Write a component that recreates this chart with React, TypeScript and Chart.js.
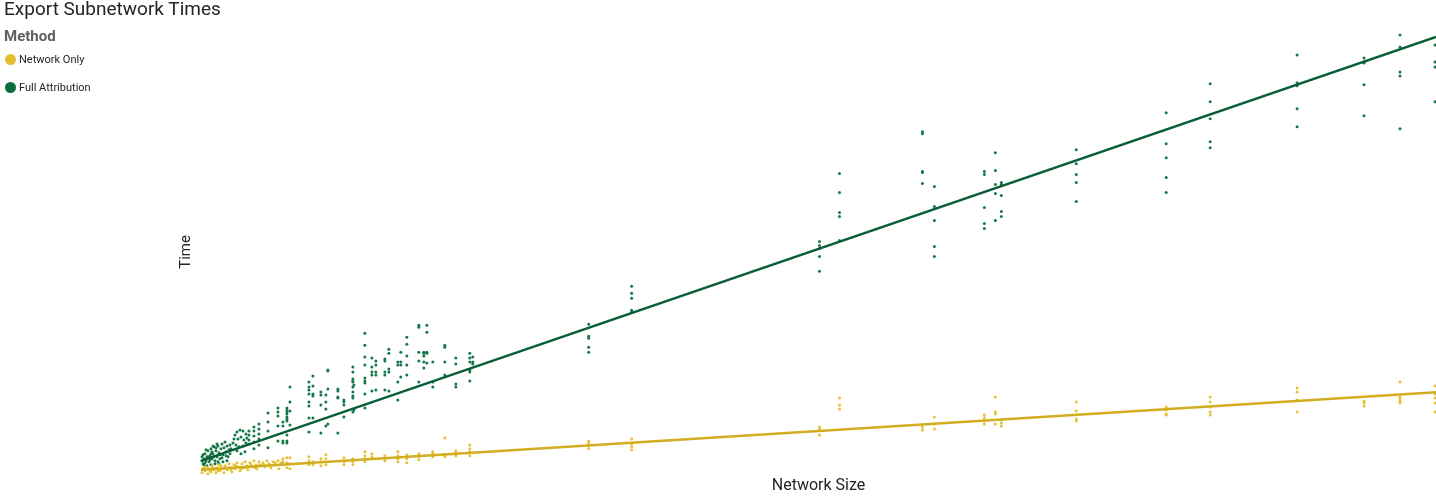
import { useEffect, useRef } from "react";
import { Chart, registerables } from "chart.js";

Chart.register(...registerables);

// ---- data (arbitrary units: Network Size, Time) ----
const methods = ["Network Only", "Full Attribution"];

// Full Attribution: repeated runs for each network size
const fullAttributionRuns: Array<[number, number[]]> = [
  [96.6, [36.2, 33.1, 31.7, 29.7, 28.2]],
  [101.0, [39.1, 37.3, 35.6, 33.3, 32.7]],
  [109.7, [42.0, 39.2, 38.9, 36.6, 34.8]],
  [116.4, [41.7, 41.3, 41.2, 39.0, 35.9]],
  [120.0, [44.0, 42.8, 40.3, 39.9, 34.6]],
  [123.5, [43.0, 41.3, 40.8, 37.3]],
  [61.9, [23.3, 22.9, 22.6, 21.8, 20.3]],
  [63.9, [30.1, 28.2, 26.2, 25.8, 23.4]],
  [72.2, [34.3, 34.1, 30.3, 30.2, 29.1]],
  [73.4, [28.8, 26.8, 25.4, 22.8, 21.8]],
  [78.4, [30.3, 30.0, 26.7, 25.1, 24.6]],
  [79.5, [32.2, 30.4, 29.0, 28.1, 25.4]],
  [80.1, [29.2, 29.0, 27.9, 26.3, 25.8]],
  [87.6, [32.5, 31.1, 30.0, 29.2, 27.3]],
  [38.8, [15.0, 13.8, 13.6, 12.7, 12.2]],
  [43.1, [18.8, 18.1, 17.6, 16.4, 16.2]],
  [8.2, [5.2, 4.8, 3.3, 3.1]],
  [8.6, [6.6, 6.4, 6.2, 6.0, 5.7, 5.5, 5.3, 3.9, 3.3, 3.1]],
  [8.9, [8.7, 7.2, 6.3, 4.9]],
  [10.8, [9.2, 8.7, 8.4, 8.0, 7.2, 6.8, 5.6, 4.2]],
  [11.2, [9.8, 8.8, 8.0, 7.8, 5.6]],
  [12.0, [8.2, 7.9, 6.9, 4.1]],
  [12.5, [7.9, 7.2, 6.5, 4.8]],
  [12.7, [10.4, 10.3, 8.5, 5.0]],
  [13.7, [8.5, 8.3, 7.7, 7.6, 4.1]],
  [14.3, [7.4, 7.2, 6.9, 5.7]],
  [15.2, [10.7, 10.2, 9.5, 9.3, 9.2, 8.7, 8.2, 7.8, 7.6, 6.2]],
  [15.3, [8.9, 6.4]],
  [16.4, [14.1, 12.9, 11.7, 10.9, 9.6, 9.3, 9.1, 8.0, 6.6]],
  [17.1, [11.6, 10.7, 10.2, 9.9, 8.3]],
  [17.5, [11.3, 10.9, 10.2, 9.9, 8.4]],
  [18.4, [11.5, 11.3, 10.2, 9.9, 8.4]],
  [18.8, [12.5, 12.1, 10.5, 10.2, 8.3]],
  [19.7, [11.2, 10.9, 9.2, 7.4]],
  [20.0, [12.2, 11.2, 10.9, 9.7]],
  [20.6, [13.7, 13.0, 11.8, 10.9, 9.9]],
  [21.8, [14.9, 14.7, 12.2, 11.3, 9.2]],
  [22.3, [12.2, 12.1, 11.8, 11.2, 10.6]],
  [22.6, [14.9, 14.2, 12.2, 12.1, 11.1]],
  [23.2, [11.2, 9.2, 8.7]],
  [24.4, [12.9, 12.7, 11.2, 9.9]],
  [25.5, [11.6, 11.0, 9.0, 8.7]],
  [26.9, [12.1, 11.6, 11.2, 10.4, 10.2, 9.3]],
  [27.2, [11.7, 11.2, 11.0]],
  [6.7, [6.1, 5.2, 4.3, 2.6]],
  [7.7, [6.6, 6.2, 5.8, 4.8, 3.3]],
  [5.8, [5.0, 4.5, 4.0, 3.5, 2.9]],
  [5.3, [4.7, 4.3, 3.8, 3.2, 2.5]],
  [4.8, [4.3, 3.9, 3.4, 3.0]],
];

// Full Attribution: small networks (individual runs)
const fullAttributionSmall: Array<[number, number]> = [
  [3.3, 3.5], [3.4, 3.9], [3.6, 4.2], [3.9, 4.4], [4.2, 4.3], [4.5, 4.0],
  [4.6, 3.6], [4.5, 3.1], [4.2, 2.8], [3.8, 2.7], [3.5, 2.9], [3.7, 3.5],
  [4.0, 3.7], [4.3, 3.4], [3.6, 2.3], [4.0, 2.0], [4.4, 2.2], [3.0, 2.5],
  [3.2, 3.1],
  [0.1, 1.3], [0.1, 1.7], [0.2, 1.0], [0.3, 1.5], [0.4, 2.0], [0.5, 1.3],
  [0.6, 1.7], [0.7, 2.3], [0.8, 1.2], [0.9, 1.8], [1.0, 2.5], [1.1, 1.5],
  [1.2, 2.0], [1.3, 2.7], [1.4, 1.3], [1.5, 2.3], [1.6, 1.7], [1.7, 2.8],
  [1.8, 2.1], [1.9, 1.5], [2.0, 2.5], [2.1, 3.0], [2.2, 1.9], [2.3, 2.6],
  [2.4, 3.2], [2.5, 2.2], [2.6, 2.8], [2.7, 1.7], [2.8, 2.4], [2.9, 2.9],
  [0.3, 0.9], [0.6, 0.8], [1.0, 0.9], [1.4, 1.0], [1.8, 1.0], [2.2, 1.2],
  [2.6, 1.3], [1.1, 2.2], [1.5, 2.6], [1.9, 1.9], [0.7, 1.7], [1.2, 2.8],
  [1.6, 3.0], [0.4, 1.1], [0.9, 1.4], [1.3, 1.7], [1.7, 1.2], [2.1, 1.6],
  [2.5, 1.8], [2.9, 2.0], [0.2, 1.9], [0.5, 2.4], [1.0, 2.0],
];

// Network Only: repeated runs for each network size
const networkOnlyRuns: Array<[number, number[]]> = [
  [96.6, [6.7, 6.4, 6.0, 5.9]],
  [101.0, [7.7, 7.2, 6.7, 6.2, 5.9]],
  [109.7, [8.6, 8.2, 7.4, 6.2]],
  [116.4, [7.3, 7.1, 6.8]],
  [120.0, [9.2, 7.7, 7.5, 7.3, 7.1]],
  [123.5, [8.8, 8.0, 7.6, 7.1, 6.2]],
  [61.9, [4.7, 4.5, 3.9]],
  [63.9, [7.6, 6.9, 6.5]],
  [72.2, [4.7, 4.4]],
  [73.4, [5.7, 5.0, 4.5]],
  [78.4, [5.9, 5.6, 5.3, 5.0]],
  [79.5, [7.7, 6.2, 6.0, 5.0]],
  [80.1, [5.4, 5.1, 4.8]],
  [87.6, [7.2, 6.3, 5.5, 5.3]],
  [38.8, [3.3, 3.1, 2.8, 2.5]],
  [43.1, [3.5, 3.0, 2.7, 2.4]],
  [8.2, [1.5, 1.2, 0.9]],
  [8.6, [1.6, 1.1, 0.6]],
  [8.9, [1.6, 1.0, 0.5]],
  [10.8, [1.7, 1.3, 0.9]],
  [11.2, [1.2, 0.9]],
  [12.0, [1.5, 1.2, 0.8]],
  [12.5, [1.9, 1.5, 0.9]],
  [14.3, [1.6, 1.2, 0.9]],
  [15.2, [1.5, 1.2, 0.9]],
  [16.4, [2.2, 1.8, 1.5, 1.2]],
  [17.1, [2.0, 1.7]],
  [18.4, [1.8, 1.5, 1.3]],
  [19.7, [2.2, 1.8, 1.5, 1.2]],
  [20.6, [1.9, 1.5, 1.1]],
  [21.8, [2.0, 1.7, 1.4]],
  [23.2, [2.2, 2.0, 1.7]],
  [24.4, [3.6, 1.9, 1.7]],
  [25.5, [2.3, 2.1, 1.8]],
  [26.9, [2.9, 2.5, 2.2, 1.8]],
];

// Network Only: small networks (individual runs)
const networkOnlySmall: Array<[number, number]> = [
  [0.1, 0.1], [0.2, 0.5], [0.4, 0.3], [0.5, 0.7], [0.7, 0.0], [0.8, 0.5],
  [1.0, 0.2], [1.1, 0.8], [1.3, 0.4], [1.5, 0.1], [1.6, 0.6], [1.8, 0.9],
  [1.9, 0.3], [2.1, 0.5], [2.3, 0.1], [2.4, 0.8], [2.6, 0.4], [2.8, 1.0],
  [2.9, 0.6], [3.1, 0.2], [3.3, 0.9], [3.4, 0.5], [3.6, 1.1], [3.7, 0.7],
  [3.9, 0.3], [4.1, 1.0], [4.2, 0.6], [4.4, 1.2], [4.6, 0.8], [4.7, 0.4],
  [4.9, 1.1], [5.1, 0.7], [5.3, 1.3], [5.5, 0.9], [5.6, 0.5], [5.8, 1.2],
  [6.0, 0.8], [6.2, 1.1], [6.4, 0.7], [6.6, 1.3], [6.8, 1.0], [7.0, 0.6],
  [7.2, 1.2], [7.5, 0.9], [7.7, 1.3], [7.8, 0.5], [8.0, 1.1],
  [0.3, 0.6], [0.9, 0.3], [1.2, 0.6], [1.7, 0.3], [2.0, 0.8], [2.5, 0.6],
  [3.0, 0.4], [3.5, 0.8], [4.0, 0.5], [4.5, 0.6], [5.0, 0.9], [5.4, 0.6],
  [5.9, 0.9], [6.3, 0.9], [6.9, 0.8], [7.4, 1.1],
];

// Trend lines (Network Size at both ends, fitted Time)
const trendSizes = [0, 123.6];
const networkOnlyTrend = [0.4, 8.17];
const fullAttributionTrend = [1.3, 43.8];

const axisRange = { xMax: 123.6, yMax: 44.5 };

const pointColors = ["#e6c236", "#167849"];
const lineColors = ["#d1ad1f", "#0a5e35"];
const legendColors = ["#e3bf2f", "#0b6e3f"];

function toPoints(runs: Array<[number, number[]]>, small: Array<[number, number]>) {
  const pts: { x: number; y: number }[] = [];
  runs.forEach(([x, ys]) => ys.forEach((y) => pts.push({ x, y })));
  small.forEach(([x, y]) => pts.push({ x, y }));
  return pts;
}

export default function App() {
  const canvasRef = useRef<HTMLCanvasElement | null>(null);

  useEffect(() => {
    document.body.style.margin = "0";
    const canvas = canvasRef.current;
    if (!canvas) return;
    const chart = new Chart(canvas, {
      type: "scatter",
      data: {
        datasets: [
          {
            type: "line",
            label: methods[1] + " trend",
            data: trendSizes.map((x, i) => ({ x, y: fullAttributionTrend[i] })),
            borderColor: lineColors[1],
            borderWidth: 2.4,
            pointRadius: 0,
            order: 0,
            clip: false as any,
          },
          {
            type: "line",
            label: methods[0] + " trend",
            data: trendSizes.map((x, i) => ({ x, y: networkOnlyTrend[i] })),
            borderColor: lineColors[0],
            borderWidth: 2.4,
            pointRadius: 0,
            order: 0,
            clip: false as any,
          },
          {
            label: methods[0],
            data: toPoints(networkOnlyRuns, networkOnlySmall),
            backgroundColor: pointColors[0],
            borderWidth: 0,
            pointRadius: 1.5,
            order: 1,
            clip: false as any,
          },
          {
            label: methods[1],
            data: toPoints(fullAttributionRuns, fullAttributionSmall),
            backgroundColor: pointColors[1],
            borderWidth: 0,
            pointRadius: 1.5,
            order: 2,
            clip: false as any,
          },
        ],
      },
      options: {
        animation: false,
        responsive: false,
        layout: { autoPadding: false, padding: { left: 175, top: 30, right: 0, bottom: 0 } },
        plugins: { legend: { display: false }, tooltip: { enabled: false }, title: { display: false } },
        scales: {
          x: {
            type: "linear",
            min: 0,
            max: axisRange.xMax,
            grid: { display: false, drawTicks: false },
            border: { display: false },
            ticks: { display: false },
            title: {
              display: true,
              text: "Network Size",
              color: "#252423",
              font: { family: "Roboto, 'DejaVu Sans', sans-serif", size: 16 },
              padding: { top: 3, bottom: 4 },
            },
          },
          y: {
            type: "linear",
            min: 0,
            max: axisRange.yMax,
            grid: { display: false, drawTicks: false },
            border: { display: false },
            ticks: { display: false },
            title: {
              display: true,
              text: "Time",
              color: "#252423",
              font: { family: "Roboto, 'DejaVu Sans', sans-serif", size: 15 },
              padding: { top: 2, bottom: 6 },
            },
          },
        },
      },
    });
    return () => chart.destroy();
  }, []);

  return (
    <div style={{ position: "relative", width: 1436, height: 500, fontFamily: "Roboto, 'DejaVu Sans', sans-serif" }}>
      <canvas ref={canvasRef} width={1436} height={500} style={{ position: "absolute", left: 0, top: 0 }} />
      <div style={{ position: "absolute", left: 4, top: -3, fontSize: 19, color: "#252423", whiteSpace: "nowrap" }}>
        Export Subnetwork Times
      </div>
      <div style={{ position: "absolute", left: 4, top: 27, fontSize: 15, fontWeight: 700, color: "#605e5c" }}>
        Method
      </div>
      {methods.map((m, i) => (
        <div
          key={m}
          style={{
            position: "absolute",
            left: 5,
            top: 53 + i * 28,
            display: "flex",
            alignItems: "center",
            fontSize: 11,
            color: "#252423",
            whiteSpace: "nowrap",
          }}
        >
          <span
            style={{
              display: "inline-block",
              width: 11,
              height: 11,
              borderRadius: "50%",
              background: legendColors[i],
              marginRight: 3,
            }}
          />
          {m}
        </div>
      ))}
    </div>
  );
}
